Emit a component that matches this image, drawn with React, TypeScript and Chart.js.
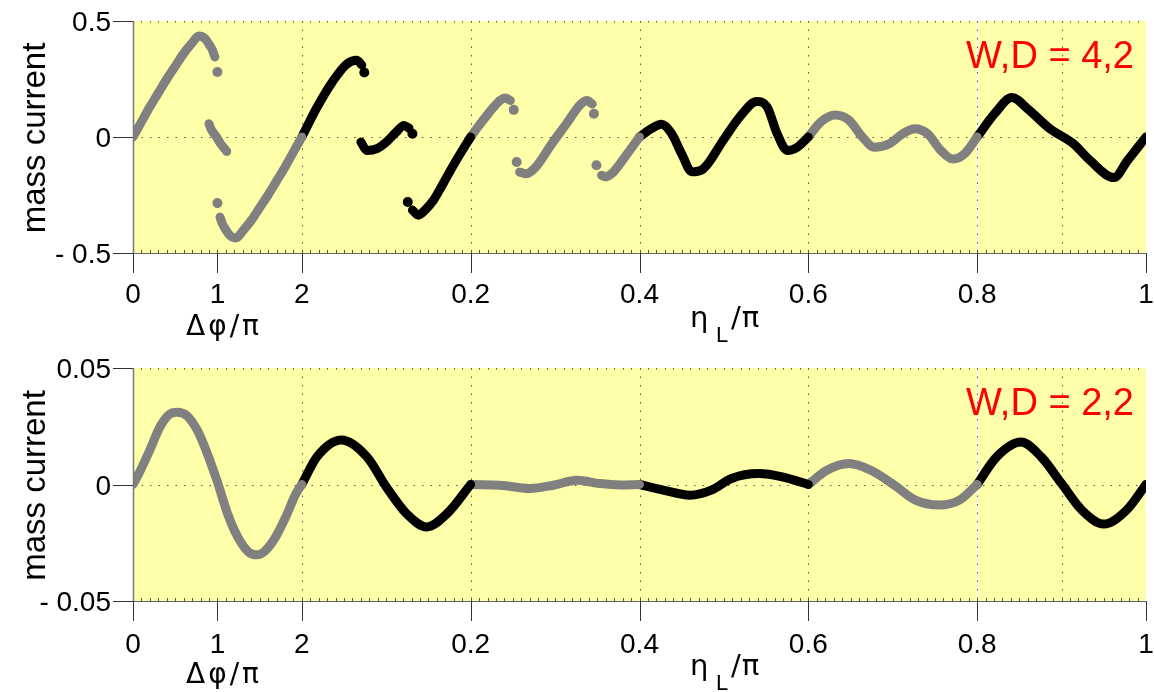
import React, { useEffect, useRef } from "react";
import { Chart, registerables } from "chart.js";

Chart.register(...registerables);

// ---------- axis description (composite x axis: Δφ/π 0..2, then η_L/π 0..1) ----------
const phiTicks = [0, 1, 2];
const phiTickLabels = ["0", "1", "2"];
const etaTicks = [0.2, 0.4, 0.6, 0.8, 1.0];
const etaTickLabels = ["0.2", "0.4", "0.6", "0.8", "1"];
const etaGrid = [0, 0.2, 0.4, 0.6, 0.8, 0.9];

const topYTicks = [0.5, 0, -0.5];
const topYLabels = ["0.5", "0", "- 0.5"];
const botYTicks = [0.05, 0, -0.05];
const botYLabels = ["0.05", "0", "- 0.05"];

const topLabel = "W,D = 4,2";
const botLabel = "W,D = 2,2";

// ---------- top panel data (Δφ/π or η_L/π, mass current) ----------
const topPhiA = [[0, 0], [0.1, 0.065], [0.2, 0.13], [0.3, 0.19], [0.4, 0.25], [0.5, 0.305], [0.6, 0.36], [0.7, 0.405], [0.78, 0.435], [0.85, 0.425], [0.9, 0.4], [0.94, 0.375], [0.97, 0.345]];
const topPhiB = [[0.9, 0.057], [0.93, 0.03], [0.98, 0.005], [1.04, -0.03], [1.11, -0.062]];
const topPhiC = [[1.03, -0.345], [1.06, -0.375], [1.1, -0.4], [1.15, -0.425], [1.22, -0.435], [1.3, -0.405], [1.4, -0.36], [1.5, -0.305], [1.6, -0.25], [1.7, -0.19], [1.8, -0.13], [1.9, -0.065], [2.0, 0]];
const topPhiDots = [[1.0, 0.28], [1.0, -0.285]];

const topEtaD = [[0, 0], [0.018, 0.128], [0.037, 0.242], [0.053, 0.314], [0.065, 0.331], [0.071, 0.31]];
const topEtaE = [[0.07, -0.022], [0.077, -0.058], [0.089, -0.05], [0.1, -0.022], [0.112, 0.022], [0.121, 0.05], [0.127, 0.038]];
const topEtaF = [[0.131, -0.315], [0.138, -0.337], [0.146, -0.315], [0.156, -0.272], [0.166, -0.21], [0.176, -0.144], [0.188, -0.07], [0.2, 0]];
const topEtaG = [[0.2, 0], [0.21, 0.05], [0.219, 0.092], [0.227, 0.128], [0.235, 0.158], [0.241, 0.168], [0.247, 0.157]];
const topEtaH = [[0.258, -0.151], [0.266, -0.158], [0.277, -0.13], [0.294, -0.04], [0.314, 0.06], [0.33, 0.14], [0.338, 0.157], [0.344, 0.142]];
const topEtaI = [[0.355, -0.165], [0.36, -0.172], [0.368, -0.155], [0.377, -0.115], [0.388, -0.06], [0.4, 0]];
const topEtaJ = [[0.4, 0], [0.414, 0.036], [0.426, 0.055], [0.438, 0.015], [0.45, -0.073], [0.462, -0.15], [0.475, -0.139], [0.499, -0.015], [0.519, 0.088], [0.539, 0.153], [0.551, 0.131], [0.563, 0.015], [0.575, -0.058], [0.587, -0.044], [0.6, 0]];
const topEtaK = [[0.6, 0], [0.615, 0.066], [0.632, 0.095], [0.648, 0.073], [0.664, 0], [0.678, -0.044], [0.696, -0.029], [0.712, 0.015], [0.726, 0.036], [0.741, 0.015], [0.757, -0.058], [0.771, -0.095], [0.785, -0.073], [0.8, 0]];
const topEtaL = [[0.8, 0], [0.821, 0.102], [0.841, 0.17], [0.861, 0.117], [0.886, 0.036], [0.914, -0.029], [0.934, -0.102], [0.962, -0.175], [0.978, -0.102], [1.0, 0]];
const topEtaDotsBlack = [[0.074, 0.278], [0.131, 0.014], [0.1255, -0.28]];
const topEtaDotsGray = [[0.251, 0.117], [0.2545, -0.108], [0.346, 0.1], [0.349, -0.122]];

// ---------- bottom panel data ----------
const botPhi = [[0, 0], [0.08, 0.0055], [0.2, 0.0148], [0.32, 0.0248], [0.44, 0.0303], [0.52, 0.031], [0.64, 0.0295], [0.76, 0.0234], [0.88, 0.0133], [1.0, 0.0011], [1.12, -0.0125], [1.24, -0.0225], [1.37, -0.029], [1.47, -0.0302], [1.57, -0.0283], [1.69, -0.0225], [1.81, -0.0139], [1.93, -0.0039], [2.0, 0]];
const botEtaM = [[0, 0], [0.018, 0.0119], [0.047, 0.0191], [0.077, 0.0119], [0.1, -0.001], [0.124, -0.0125], [0.148, -0.0182], [0.172, -0.0125], [0.2, 0]];
const botEtaN = [[0.2, 0], [0.235, -0.0003], [0.27, -0.0017], [0.298, -0.0003], [0.326, 0.0018], [0.353, 0.0004], [0.377, -0.0002], [0.4, 0]];
const botEtaO = [[0.4, 0], [0.428, -0.0024], [0.46, -0.0046], [0.485, -0.0024], [0.509, 0.0026], [0.541, 0.0047], [0.569, 0.0033], [0.6, 0]];
const botEtaP = [[0.6, 0], [0.622, 0.0061], [0.648, 0.009], [0.674, 0.0061], [0.702, -0.0003], [0.727, -0.0067], [0.755, -0.0088], [0.779, -0.0067], [0.8, 0]];
const botEtaQ = [[0.8, 0], [0.823, 0.0118], [0.852, 0.0182], [0.876, 0.0118], [0.9, 0.0004], [0.924, -0.011], [0.95, -0.017], [0.977, -0.011], [1.0, 0]];

// ---------- styling ----------
const GRAY = "#808080";
const BLACK = "#000000";
const BG = "#ffffaa";
const LW = 9;
const DOT_R = 5;
const SANS = '"Liberation Sans", Arial, Helvetica, sans-serif';
const GREEK = '"DejaVu Sans", "Liberation Sans", sans-serif';

const phiU = (v: number) => v / 10;
const etaU = (v: number) => v + 0.2;
const toU = (kind: string, v: number) => (kind === "phi" ? phiU(v) : etaU(v));

type Seg = { pts: number[][]; kind: string; color: string };
type Panel = {
  yMax: number;
  yTicks: number[];
  yLabels: string[];
  label: string;
  lines: Seg[];
  dots: Seg[];
  xLabelOff: number;
  phiTitleOff: number;
  etaTitleOff: number;
};

const topPanel: Panel = {
  yMax: 0.5,
  yTicks: topYTicks,
  yLabels: topYLabels,
  label: topLabel,
  lines: [
    { pts: topPhiA, kind: "phi", color: GRAY },
    { pts: topPhiB, kind: "phi", color: GRAY },
    { pts: topPhiC, kind: "phi", color: GRAY },
    { pts: topEtaD, kind: "eta", color: BLACK },
    { pts: topEtaE, kind: "eta", color: BLACK },
    { pts: topEtaF, kind: "eta", color: BLACK },
    { pts: topEtaG, kind: "eta", color: GRAY },
    { pts: topEtaH, kind: "eta", color: GRAY },
    { pts: topEtaI, kind: "eta", color: GRAY },
    { pts: topEtaJ, kind: "eta", color: BLACK },
    { pts: topEtaK, kind: "eta", color: GRAY },
    { pts: topEtaL, kind: "eta", color: BLACK },
  ],
  dots: [
    { pts: topPhiDots, kind: "phi", color: GRAY },
    { pts: topEtaDotsBlack, kind: "eta", color: BLACK },
    { pts: topEtaDotsGray, kind: "eta", color: GRAY },
  ],
  xLabelOff: 50,
  phiTitleOff: 82,
  etaTitleOff: 74,
};

const botPanel: Panel = {
  yMax: 0.05,
  yTicks: botYTicks,
  yLabels: botYLabels,
  label: botLabel,
  lines: [
    { pts: botPhi, kind: "phi", color: GRAY },
    { pts: botEtaM, kind: "eta", color: BLACK },
    { pts: botEtaN, kind: "eta", color: GRAY },
    { pts: botEtaO, kind: "eta", color: BLACK },
    { pts: botEtaP, kind: "eta", color: GRAY },
    { pts: botEtaQ, kind: "eta", color: BLACK },
  ],
  dots: [],
  xLabelOff: 52,
  phiTitleOff: 82,
  etaTitleOff: 74,
};

function seg(ctx: CanvasRenderingContext2D, x1: number, y1: number, x2: number, y2: number) {
  ctx.beginPath();
  ctx.moveTo(x1, y1);
  ctx.lineTo(x2, y2);
  ctx.stroke();
}

function decorPlugin(p: Panel) {
  return {
    id: "decor",
    beforeDatasetsDraw(chart: any) {
      const { ctx, chartArea: a, scales } = chart;
      const xs = scales.x;
      const ys = scales.y;
      ctx.save();
      ctx.fillStyle = BG;
      ctx.fillRect(a.left, a.top, a.right - a.left, a.bottom - a.top);
      // light seam at η = 0.8
      const pw = Math.round(xs.getPixelForValue(etaU(0.8))) + 0.5;
      ctx.strokeStyle = "#ffffff";
      ctx.lineWidth = 1.5;
      seg(ctx, pw, a.top, pw, a.bottom);
      // dotted grid
      ctx.strokeStyle = "#555";
      ctx.lineWidth = 1;
      ctx.setLineDash([1.5, 7]);
      for (const e of etaGrid) {
        const px = Math.round(xs.getPixelForValue(etaU(e))) + 0.5;
        seg(ctx, px, a.top, px, a.bottom);
      }
      const py0 = Math.round(ys.getPixelForValue(0)) + 0.5;
      seg(ctx, a.left, py0, a.right, py0);
      ctx.restore();
    },
    afterDatasetsDraw(chart: any) {
      const { ctx, chartArea: a, scales } = chart;
      const xs = scales.x;
      const ys = scales.y;
      ctx.save();
      // frame
      ctx.strokeStyle = "#777";
      ctx.lineWidth = 1.5;
      seg(ctx, a.left + 0.5, a.top, a.left + 0.5, a.bottom + 1);
      ctx.strokeStyle = "#666";
      ctx.lineWidth = 1;
      seg(ctx, a.left, a.bottom + 0.5, a.right, a.bottom + 0.5);
      // minor ticks
      ctx.strokeStyle = "#555";
      for (let i = 1; i < 120; i++) {
        const px = Math.round(xs.getPixelForValue(i / 100)) + 0.5;
        seg(ctx, px, a.bottom, px, a.bottom - 3);
        seg(ctx, px, a.top, px, a.top + 1.5);
      }
      // major ticks
      ctx.strokeStyle = "#333";
      const xt: [number, string][] = [];
      phiTicks.forEach((v, i) => xt.push([phiU(v), phiTickLabels[i]]));
      etaTicks.forEach((v, i) => xt.push([etaU(v), etaTickLabels[i]]));
      for (const [u] of xt) {
        const px = Math.round(xs.getPixelForValue(u)) + 0.5;
        seg(ctx, px, a.bottom, px, a.bottom + 20);
      }
      for (const v of p.yTicks) {
        const py = Math.round(ys.getPixelForValue(v)) + 0.5;
        seg(ctx, a.left - 20, py, a.left, py);
      }
      // tick labels
      ctx.fillStyle = "#000";
      ctx.font = `28px ${SANS}`;
      ctx.textAlign = "center";
      ctx.textBaseline = "alphabetic";
      for (const [u, lab] of xt) {
        ctx.fillText(lab, xs.getPixelForValue(u), a.bottom + p.xLabelOff);
      }
      ctx.textAlign = "right";
      p.yTicks.forEach((v, i) => {
        ctx.fillText(p.yLabels[i], a.left - 22, ys.getPixelForValue(v) + 10);
      });
      // y title
      ctx.save();
      ctx.translate(45, (a.top + a.bottom) / 2 + 1);
      ctx.rotate(-Math.PI / 2);
      ctx.textAlign = "center";
      ctx.font = `33px ${SANS}`;
      ctx.fillText("mass current", 0, 0);
      ctx.restore();
      // x titles
      ctx.textAlign = "center";
      ctx.font = `28px ${GREEK}`;
      (ctx as any).letterSpacing = "3px";
      ctx.fillText("Δφ/π", 224, a.bottom + p.phiTitleOff);
      (ctx as any).letterSpacing = "0px";
      ctx.textAlign = "left";
      ctx.font = `29px ${GREEK}`;
      ctx.fillText("η", 690, a.bottom + p.etaTitleOff);
      ctx.font = `22px ${SANS}`;
      ctx.fillText("L", 716, a.bottom + p.etaTitleOff + 15);
      ctx.font = `29px ${GREEK}`;
      (ctx as any).letterSpacing = "1px";
      ctx.fillText("/π", 731, a.bottom + p.etaTitleOff);
      (ctx as any).letterSpacing = "0px";
      // panel annotation
      ctx.fillStyle = "#ff0000";
      ctx.font = `38px ${SANS}`;
      ctx.textAlign = "right";
      ctx.fillText(p.label, 1134, a.top + 46.5);
      ctx.restore();
    },
  };
}

function makeChart(canvas: HTMLCanvasElement, p: Panel, padding: any) {
  const datasets: any[] = [];
  for (const s of p.dots) {
    datasets.push({
      type: "scatter",
      data: s.pts.map(([a, b]) => ({ x: toU(s.kind, a), y: b })),
      pointRadius: DOT_R,
      pointBackgroundColor: s.color,
      pointBorderWidth: 0,
      showLine: false,
    });
  }
  for (const s of p.lines) {
    datasets.push({
      type: "line",
      data: s.pts.map(([a, b]) => ({ x: toU(s.kind, a), y: b })),
      borderColor: s.color,
      borderWidth: LW,
      borderCapStyle: "round",
      borderJoinStyle: "round",
      pointRadius: 0,
      cubicInterpolationMode: "monotone",
      fill: false,
    });
  }
  return new Chart(canvas, {
    type: "line",
    data: { datasets },
    options: {
      animation: false,
      responsive: false,
      maintainAspectRatio: false,
      events: [],
      layout: { padding },
      scales: {
        x: { type: "linear", min: 0, max: 1.2, display: false },
        y: { type: "linear", min: -p.yMax, max: p.yMax, display: false },
      },
      plugins: { legend: { display: false }, tooltip: { enabled: false } },
    },
    plugins: [decorPlugin(p)],
  } as any);
}

export default function App() {
  const topRef = useRef<HTMLCanvasElement>(null);
  const botRef = useRef<HTMLCanvasElement>(null);
  useEffect(() => {
    const c1 = makeChart(topRef.current!, topPanel, { left: 133, right: 8, top: 21, bottom: 93 });
    const c2 = makeChart(botRef.current!, botPanel, { left: 133, right: 8, top: 22, bottom: 91 });
    return () => {
      c1.destroy();
      c2.destroy();
    };
  }, []);
  return (
    <div style={{ position: "absolute", left: 0, top: 0, width: 1154, height: 692, background: "#fff" }}>
      <canvas ref={topRef} width={1154} height={346} style={{ position: "absolute", left: 0, top: 0 }} />
      <canvas ref={botRef} width={1154} height={346} style={{ position: "absolute", left: 0, top: 346 }} />
    </div>
  );
}
